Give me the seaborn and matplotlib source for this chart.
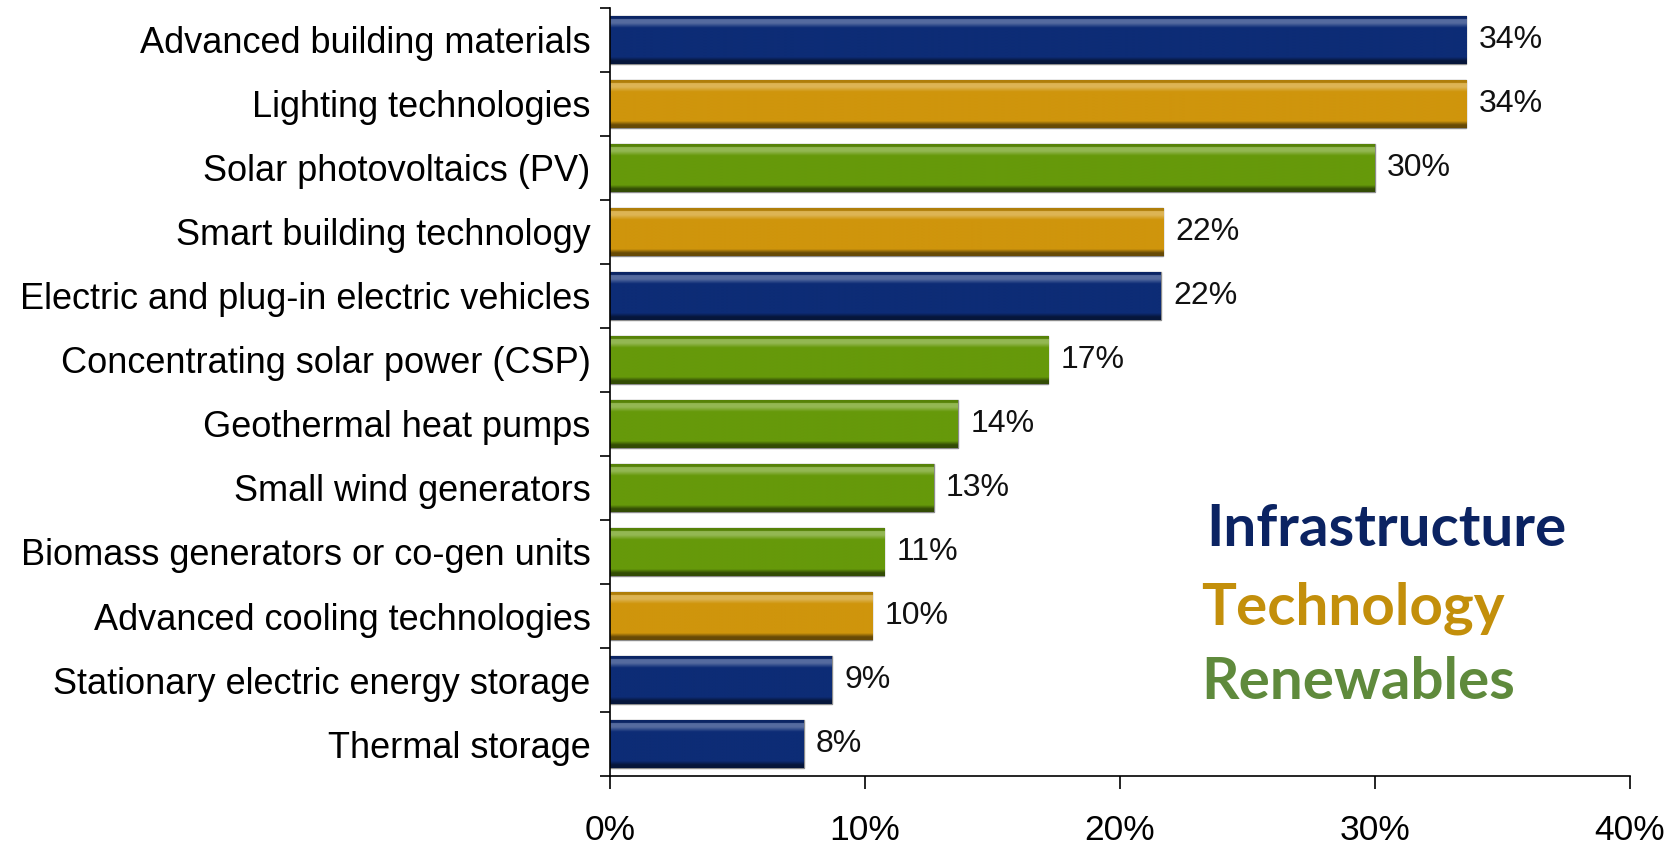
import numpy as np
import pandas as pd
import matplotlib
matplotlib.use("Agg")
import matplotlib.pyplot as plt
import matplotlib.colors as mcolors
import seaborn as sns

# Share of respondents by technology area
categories = [
    "Advanced building materials",
    "Lighting technologies",
    "Solar photovoltaics (PV)",
    "Smart building technology",
    "Electric and plug-in electric vehicles",
    "Concentrating solar power (CSP)",
    "Geothermal heat pumps",
    "Small wind generators",
    "Biomass generators or co-gen units",
    "Advanced cooling technologies",
    "Stationary electric energy storage",
    "Thermal storage",
]
shares = [33.6, 33.6, 30.0, 21.7, 21.6, 17.2, 13.65, 12.7, 10.75, 10.3, 8.7, 7.6]
groups = [
    "Infrastructure", "Technology", "Renewables", "Technology",
    "Infrastructure", "Renewables", "Renewables", "Renewables",
    "Renewables", "Technology", "Infrastructure", "Infrastructure",
]
group_names = ["Infrastructure", "Technology", "Renewables"]
x_ticks = [0, 10, 20, 30, 40]

bar_colors = {"Infrastructure": "#0d2c76", "Technology": "#cf950c", "Renewables": "#66990a"}
text_colors = {"Infrastructure": "#0b2362", "Technology": "#c38f0b", "Renewables": "#5f8a3c"}

df = pd.DataFrame({"category": categories, "share": shares, "group": groups})

sns.set_theme(style="white")
plt.rcParams["font.family"] = ["Liberation Sans", "DejaVu Sans"]

fig = plt.figure(figsize=(16.8, 8.46), dpi=100)
ax = fig.add_axes([0.363, 0.0827, 0.607, 0.908])

sns.barplot(data=df, x="share", y="category", hue="group", palette=bar_colors,
            dodge=False, width=0.74, legend=False, ax=ax, saturation=1)

# Bevelled look: a vertical shading clipped to every bar
for patch in ax.patches:
    base = np.array(mcolors.to_rgb(patch.get_facecolor()))
    x0, y0 = patch.get_x(), patch.get_y()
    w, h = patch.get_width(), patch.get_height()
    if w <= 0:
        continue
    t = np.linspace(0, 1, 64)
    light = base + (1 - base) * 0.3
    dark = base * 0.5
    rows = []
    for v in t:
        if v < 0.05:
            c = base * 0.85
        elif v < 0.14:
            c = light
        elif v < 0.24:
            c = base + (light - base) * (0.24 - v) / 0.10
        elif v < 0.86:
            c = base
        elif v < 0.94:
            c = base + (dark - base) * (v - 0.86) / 0.08
        else:
            c = dark
        rows.append(c)
    grad = np.array(rows)[:, None, :]
    im = ax.imshow(grad, extent=[x0, x0 + w, y0 + h, y0], aspect="auto",
                   interpolation="bilinear", zorder=patch.get_zorder() + 0.1)
    im.set_clip_path(patch)
    patch.set_edgecolor((0.55, 0.55, 0.55))
    patch.set_linewidth(1.0)

for container in ax.containers:
    ax.bar_label(container, labels=[f"{v:.0f}%" for v in container.datavalues],
                 padding=9, fontsize=23, color="#111111")

ax.set_xlim(0, 40)
ax.set_ylim(len(categories) - 0.5, -0.5)
ax.set_xticks(x_ticks)
ax.set_xticklabels([f"{v}%" for v in x_ticks], fontsize=25.5)
ax.set_yticks(range(len(categories)))
ax.set_yticklabels(categories, fontsize=26)
ax.set_yticks(np.arange(-0.5, len(categories), 1), minor=True)
ax.set_xlabel("")
ax.set_ylabel("")

ax.tick_params(axis="y", which="major", length=0, pad=14, colors="black")
ax.tick_params(axis="y", which="minor", left=True, length=7, width=1.2, color="black", direction="out")
ax.tick_params(axis="x", which="major", bottom=True, length=9, width=1.2, color="black",
               direction="out", pad=18, labelcolor="black")

for side in ("top", "right"):
    ax.spines[side].set_visible(False)
for side in ("left", "bottom"):
    ax.spines[side].set_color("black")
    ax.spines[side].set_linewidth(1.2)

# Group key written in the group colours
key_font = ["Lato", "DejaVu Sans"]
key_pos = [(0.718, 0.374), (0.715, 0.281), (0.715, 0.193)]
for name, (kx, ky) in zip(group_names, key_pos):
    fig.text(kx, ky, name, color=text_colors[name], fontsize=42, fontweight="bold",
             family=key_font, va="center", ha="left")

fig.savefig("out.png", dpi=100)
